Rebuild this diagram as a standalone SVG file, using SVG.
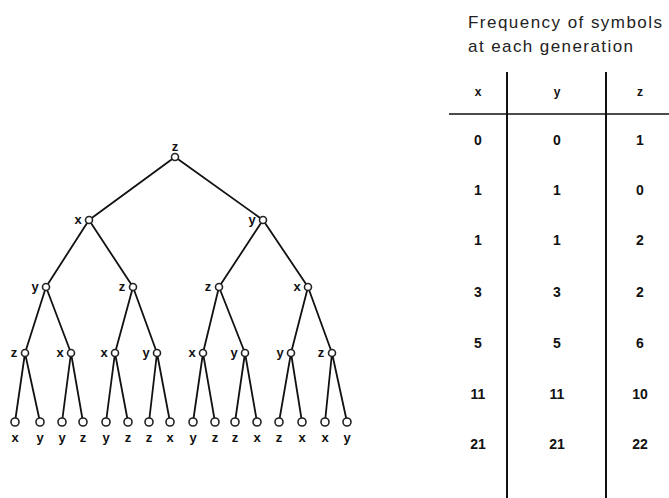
<svg xmlns="http://www.w3.org/2000/svg" width="669" height="498" viewBox="0 0 669 498">
<style>
.e{stroke:#111;stroke-width:1.8;fill:none}
.n{fill:#fff;stroke:#222;stroke-width:1.6}
.l{font-family:"Liberation Sans",Arial,sans-serif;font-size:13px;font-weight:bold;fill:#111;text-anchor:middle}
.t{font-family:"Liberation Sans",Arial,sans-serif;font-size:17px;fill:#222}
.h{font-family:"Liberation Sans",Arial,sans-serif;font-size:12px;font-weight:bold;fill:#111;text-anchor:middle}
.d{font-family:"Liberation Sans",Arial,sans-serif;font-size:14px;font-weight:bold;fill:#111;text-anchor:middle}
.g{stroke:#111;stroke-width:2}
</style>
<rect width="669" height="498" fill="#fff"/>
<g id="connectors">
<path class="e" d="M175,157L89,220M175,157L263,220
M89,220L46,287M89,220L133,287M263,220L219,287M263,220L308,287
M46,287L25,353M46,287L71,353M133,287L115,353M133,287L157,353M219,287L203,353M219,287L245,353M308,287L291,353M308,287L332,353
M25,353L15,422M25,353L40,422M71,353L62,422M71,353L83,422M115,353L106,422M115,353L128,422M157,353L149,422M157,353L170,422
M203,353L193,422M203,353L215,422M245,353L235,422M245,353L257,422M291,353L279,422M291,353L302,422M332,353L325,422M332,353L347,422"/>
</g>
<g id="n0"><circle class="n" cx="175" cy="157" r="3.5"/><text class="l" x="175" y="151">z</text></g>
<g id="n1"><circle class="n" cx="89" cy="220" r="3.5"/><text class="l" x="78" y="224">x</text></g>
<g id="n2"><circle class="n" cx="263" cy="220" r="3.5"/><text class="l" x="252" y="224">y</text></g>
<g id="n3"><circle class="n" cx="46" cy="287" r="3.5"/><text class="l" x="35" y="291">y</text></g>
<g id="n4"><circle class="n" cx="133" cy="287" r="3.5"/><text class="l" x="122" y="291">z</text></g>
<g id="n5"><circle class="n" cx="219" cy="287" r="3.5"/><text class="l" x="208" y="291">z</text></g>
<g id="n6"><circle class="n" cx="308" cy="287" r="3.5"/><text class="l" x="297" y="291">x</text></g>
<g id="n7"><circle class="n" cx="25" cy="353" r="3.5"/><text class="l" x="14" y="357">z</text></g>
<g id="n8"><circle class="n" cx="71" cy="353" r="3.5"/><text class="l" x="60" y="357">x</text></g>
<g id="n9"><circle class="n" cx="115" cy="353" r="3.5"/><text class="l" x="104" y="357">x</text></g>
<g id="n10"><circle class="n" cx="157" cy="353" r="3.5"/><text class="l" x="146" y="357">y</text></g>
<g id="n11"><circle class="n" cx="203" cy="353" r="3.5"/><text class="l" x="192" y="357">x</text></g>
<g id="n12"><circle class="n" cx="245" cy="353" r="3.5"/><text class="l" x="234" y="357">y</text></g>
<g id="n13"><circle class="n" cx="291" cy="353" r="3.5"/><text class="l" x="280" y="357">y</text></g>
<g id="n14"><circle class="n" cx="332" cy="353" r="3.5"/><text class="l" x="321" y="357">z</text></g>
<g id="n15"><circle class="n" cx="15" cy="422" r="4"/><text class="l" x="15" y="442">x</text></g>
<g id="n16"><circle class="n" cx="40" cy="422" r="4"/><text class="l" x="40" y="442">y</text></g>
<g id="n17"><circle class="n" cx="62" cy="422" r="4"/><text class="l" x="62" y="442">y</text></g>
<g id="n18"><circle class="n" cx="83" cy="422" r="4"/><text class="l" x="83" y="442">z</text></g>
<g id="n19"><circle class="n" cx="106" cy="422" r="4"/><text class="l" x="106" y="442">y</text></g>
<g id="n20"><circle class="n" cx="128" cy="422" r="4"/><text class="l" x="128" y="442">z</text></g>
<g id="n21"><circle class="n" cx="149" cy="422" r="4"/><text class="l" x="149" y="442">z</text></g>
<g id="n22"><circle class="n" cx="170" cy="422" r="4"/><text class="l" x="170" y="442">x</text></g>
<g id="n23"><circle class="n" cx="193" cy="422" r="4"/><text class="l" x="193" y="442">y</text></g>
<g id="n24"><circle class="n" cx="215" cy="422" r="4"/><text class="l" x="215" y="442">z</text></g>
<g id="n25"><circle class="n" cx="235" cy="422" r="4"/><text class="l" x="235" y="442">z</text></g>
<g id="n26"><circle class="n" cx="257" cy="422" r="4"/><text class="l" x="257" y="442">x</text></g>
<g id="n27"><circle class="n" cx="279" cy="422" r="4"/><text class="l" x="279" y="442">z</text></g>
<g id="n28"><circle class="n" cx="302" cy="422" r="4"/><text class="l" x="302" y="442">x</text></g>
<g id="n29"><circle class="n" cx="325" cy="422" r="4"/><text class="l" x="325" y="442">x</text></g>
<g id="n30"><circle class="n" cx="347" cy="422" r="4"/><text class="l" x="347" y="442">y</text></g>
<g id="table">
<text class="t" x="468" y="28" textLength="194" lengthAdjust="spacing">Frequency of symbols</text>
<text class="t" x="468" y="52" textLength="165" lengthAdjust="spacing">at each generation</text>
<line class="g" x1="507" y1="72" x2="507" y2="498"/>
<line class="g" x1="606" y1="72" x2="606" y2="498"/>
<line class="g" x1="449" y1="114" x2="669" y2="114" style="stroke-width:1.6"/>
<text class="h" x="478" y="96">x</text><text class="h" x="557" y="96">y</text><text class="h" x="640" y="96">z</text>
<text class="d" x="478" y="145">0</text><text class="d" x="557" y="145">0</text><text class="d" x="640" y="145">1</text>
<text class="d" x="478" y="195">1</text><text class="d" x="557" y="195">1</text><text class="d" x="640" y="195">0</text>
<text class="d" x="478" y="245">1</text><text class="d" x="557" y="245">1</text><text class="d" x="640" y="245">2</text>
<text class="d" x="478" y="297">3</text><text class="d" x="557" y="297">3</text><text class="d" x="640" y="297">2</text>
<text class="d" x="478" y="348">5</text><text class="d" x="557" y="348">5</text><text class="d" x="640" y="348">6</text>
<text class="d" x="478" y="399">11</text><text class="d" x="557" y="399">11</text><text class="d" x="640" y="399">10</text>
<text class="d" x="478" y="449">21</text><text class="d" x="557" y="449">21</text><text class="d" x="640" y="449">22</text>
</g>
</svg>
